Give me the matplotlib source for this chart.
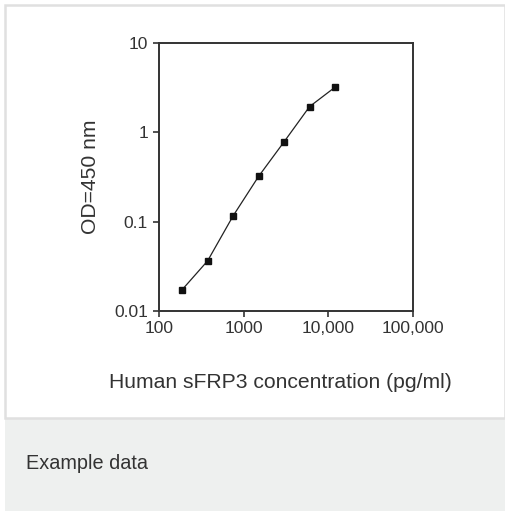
import matplotlib
matplotlib.use("Agg")
import matplotlib.pyplot as plt
from matplotlib.patches import Rectangle
from matplotlib.ticker import FixedLocator, FixedFormatter, NullLocator

plt.rcParams['font.family'] = ['Liberation Sans', 'DejaVu Sans']

concentration = [187.5, 375, 750, 1500, 3000, 6000, 12000]
od450 = [0.0173, 0.0364, 0.116, 0.321, 0.783, 1.94, 3.2]
x_ticks = [100, 1000, 10000, 100000]
x_tick_labels = ["100", "1000", "10,000", "100,000"]
y_ticks = [0.01, 0.1, 1, 10]
y_tick_labels = ["0.01", "0.1", "1", "10"]

W, H = 506, 511
fig = plt.figure(figsize=(W / 100, H / 100), dpi=100)
fig.patch.set_facecolor('white')

# card background and border
fig.patches.append(Rectangle((5 / W, 0), 1 - 5 / W, (H - 418) / H, transform=fig.transFigure,
                             facecolor='#eef0ef', edgecolor='none', zorder=0))
fig.patches.append(Rectangle((5.5 / W, (H - 418) / H), (505 - 5.5) / W, (418 - 5.5) / H,
                             transform=fig.transFigure, facecolor='none',
                             edgecolor='#e0e0e0', linewidth=1.8, zorder=1))

left, right, top, bottom = 159, 413, 43, 311
ax = fig.add_axes([left / W, (H - bottom) / H, (right - left) / W, (bottom - top) / H])
ax.set_xscale('log')
ax.set_yscale('log')
ax.set_xlim(100, 100000)
ax.set_ylim(0.01, 10)

ax.plot(concentration, od450, color='#222222', linewidth=0.9, marker='s', markersize=4.5,
        markerfacecolor='#111111', markeredgecolor='#111111')

ax.xaxis.set_major_locator(FixedLocator(x_ticks))
ax.xaxis.set_major_formatter(FixedFormatter(x_tick_labels))
ax.yaxis.set_major_locator(FixedLocator(y_ticks))
ax.yaxis.set_major_formatter(FixedFormatter(y_tick_labels))
ax.xaxis.set_minor_locator(NullLocator())
ax.yaxis.set_minor_locator(NullLocator())

for s in ax.spines.values():
    s.set_color('#333333')
    s.set_linewidth(1.4)

ax.tick_params(axis='both', which='major', direction='out', length=4, width=1.2,
               color='#333333', labelsize=12.5, labelcolor='#333333')
ax.tick_params(axis='x', pad=3)
ax.tick_params(axis='y', pad=4)

ax.set_ylabel("OD=450 nm", fontsize=15.2, color='#333333', labelpad=10)
ax.set_xlabel("Human sFRP3 concentration (pg/ml)", fontsize=15.2, color='#333333')
ax.xaxis.set_label_coords((280 - left) / (right - left), -(373 - bottom) / (bottom - top))

fig.text(26 / W, 1 - 463 / H, "Example data", fontsize=14.3, color='#333333',
         ha='left', va='center')

fig.savefig("out.png", dpi=100)
